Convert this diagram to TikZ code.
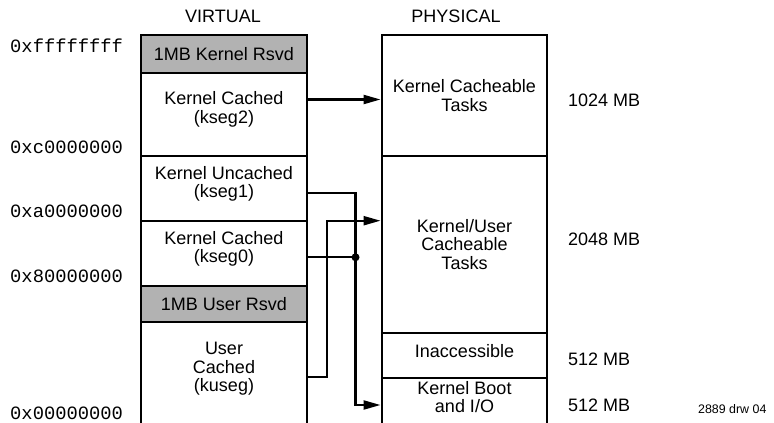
\documentclass[tikz,border=0pt]{standalone}
\usepackage{fontspec}
\setmainfont{Liberation Sans}
\newfontfamily\hexfont{Liberation Mono}
\usetikzlibrary{arrows.meta}
\begin{document}
\begin{tikzpicture}[x=1pt,y=-1pt,
  font=\fontsize{18}{18.5}\selectfont,
  seg/.style={draw, line width=2.3pt, inner sep=0pt, align=center, anchor=north},
  vbox/.style={seg, minimum width=166pt},
  pbox/.style={seg, minimum width=165.6pt},
  rsvd/.style={fill=black!30},
  lift/.style={text depth=#1},
  lbl/.style={inner sep=0pt, anchor=west},
  hex/.style={lbl, font=\hexfont\fontsize{18.8}{19}\selectfont},
  wire/.style={line width=2.2pt},
  arr/.style={wire, -{Triangle[length=17pt,width=9pt]}}]
\useasboundingbox (0,0) rectangle (774,423);
% headers
\node (hv) at (223,16) {VIRTUAL};
\node (hp) at (456,16) {PHYSICAL};
% virtual column
\node[vbox, rsvd, minimum height=37.5pt] (krsvd) at (224,34) {1MB Kernel Rsvd};
\node[vbox, minimum height=83.5pt, lift=14pt] (kseg2) at (224,71.5) {Kernel Cached\\(kseg2)};
\node[vbox, minimum height=65pt, lift=13pt] (kseg1) at (224,155) {Kernel Uncached\\(kseg1)};
\node[vbox, minimum height=65pt, lift=13pt] (kseg0) at (224,220) {Kernel Cached\\(kseg0)};
\node[vbox, rsvd, minimum height=36pt] (ursvd) at (224,285) {1MB User Rsvd};
\node[vbox, minimum height=103pt, lift=13pt] (kuseg) at (224,321) {User\\Cached\\(kuseg)};
% physical column
\node[pbox, minimum height=121pt] (pkc) at (464.5,34) {Kernel Cacheable\\Tasks};
\node[pbox, minimum height=176.5pt] (pkut) at (464.5,155) {Kernel/User\\Cacheable\\Tasks};
\node[pbox, minimum height=45.5pt, lift=8pt] (pina) at (464.5,331.5) {Inaccessible};
\node[pbox, minimum height=47pt, lift=9pt] (pboot) at (464.5,377) {Kernel Boot\\and I/O};
% addresses
\node[hex] (a1) at (10,45.7) {0xffffffff};
\node[hex] (a2) at (10,147.3) {0xc0000000};
\node[hex] (a3) at (10,211.7) {0xa0000000};
\node[hex] (a4) at (10,276.7) {0x80000000};
\node[hex] (a5) at (10,413) {0x00000000};
% sizes
\node[lbl] (s1) at (568,100.5) {1024 MB};
\node[lbl] (s2) at (568,239.3) {2048 MB};
\node[lbl] (s3) at (568,359) {512 MB};
\node[lbl] (s4) at (568,405) {512 MB};
\node[lbl, font=\fontsize{12.4}{13}\selectfont] (tag) at (698,409) {2889 drw 04};
% connectors
\coordinate (j) at (355.5,257.3);
\draw[arr] (kseg2.east |- 0,99.5) -- (pkc.west |- 0,99.5);
\draw[wire] (kseg1.east |- 0,192.7) -| (j);
\draw[wire] (kseg0.east |- 0,257.3) -- (j);
\draw[arr] (j) |- (pboot.west |- 0,405);
\fill (j) circle (4pt);
\draw[arr] (kuseg.east |- 0,376.7) -| (327,220.7) -- (pkut.west |- 0,220.7);
\end{tikzpicture}
\end{document}
